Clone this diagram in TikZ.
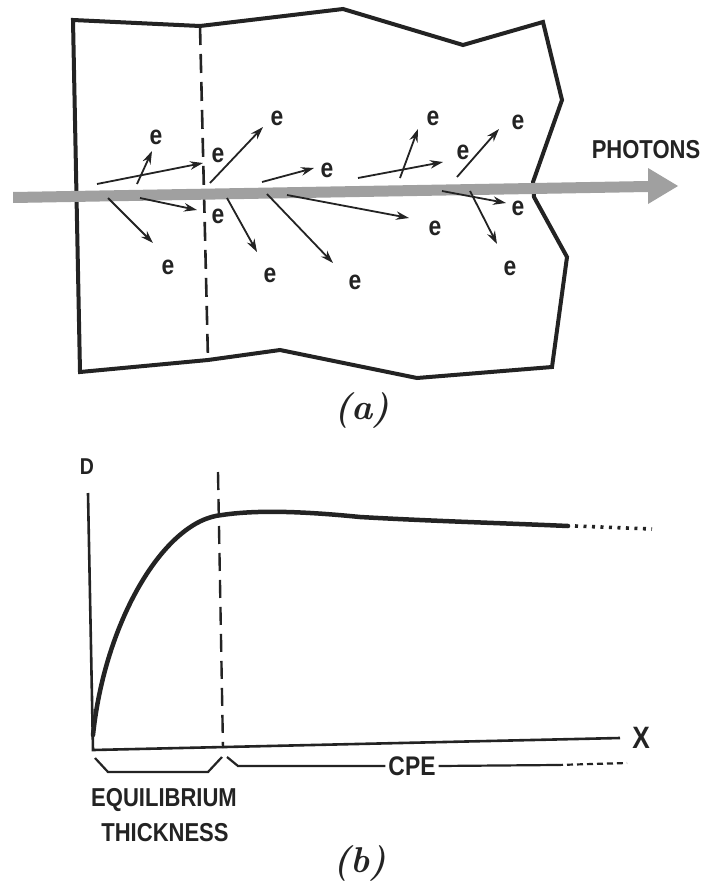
\documentclass[tikz,border=0pt]{standalone}
\usepackage{fontspec}
\newfontfamily\lbl{Liberation Sans}[FakeStretch=0.85]
\usetikzlibrary{arrows.meta}
\definecolor{ink}{RGB}{35,35,35}
\definecolor{beamgray}{RGB}{160,160,160}
\begin{document}
\begin{tikzpicture}[x=1bp,y=-1bp,
  outline/.style={draw=ink, line width=4bp, line join=miter},
  dashline/.style={draw=ink, line width=2.6bp, dash pattern=on 19bp off 9bp},
  earrow/.style={draw=ink, line width=1.8bp, -{Stealth[length=13bp,width=8.5bp]}},
  elabel/.style={font=\lbl\bfseries\fontsize{27}{27}\selectfont, text=ink, inner sep=0pt},
  biglabel/.style={font=\lbl\bfseries\fontsize{26}{26}\selectfont, text=ink, inner sep=0pt},
  caption/.style={font=\bfseries\itshape\fontsize{36}{36}\selectfont, text=ink, inner sep=0pt},
  axis/.style={draw=ink, line width=2.6bp},
  curve/.style={draw=ink, line width=4.5bp, line cap=round},
  bracket/.style={draw=ink, line width=2.2bp}]
\useasboundingbox (0,0) rectangle (702,884);
\fill[white] (0,0) rectangle (702,884);

% ---------- panel (a) ----------
\draw[outline] (73,20) -- (200,26) -- (343,9) -- (463,45) -- (543,22) -- (562,100)
  -- (533,182) -- (534,197) -- (567,257) -- (552,367) -- (417,378) -- (280,350)
  -- (208,360) -- (80,372) -- cycle;
\coordinate (dtop) at (200,26);
\coordinate (dbot) at (208,360);
\draw[dashline] (dtop) -- (dbot);

% photon beam
\fill[beamgray] (13,192) -- (648,181) -- (648,168) -- (678,186) -- (648,204)
  -- (648,192) -- (13,203) -- cycle;
\node[biglabel] (photons) at (646,150) {PHOTONS};

% electrons
\node[elabel] (e1) at (218,155) {e};
\node[elabel] (e2) at (156,137) {e};
\node[elabel] (e3) at (168,267) {e};
\node[elabel] (e4) at (218,216) {e};
\node[elabel] (e5) at (277,118) {e};
\node[elabel] (e6) at (270,275) {e};
\node[elabel] (e7) at (327,170) {e};
\node[elabel] (e8) at (355,282) {e};
\node[elabel] (e9) at (435,228) {e};
\node[elabel] (e10) at (463,152) {e};
\node[elabel] (e11) at (433,118) {e};
\node[elabel] (e12) at (518,122) {e};
\node[elabel] (e13) at (518,208) {e};
\node[elabel] (e14) at (510,268) {e};

\coordinate (s1) at (97,184);   \coordinate (t1) at (203,163);
\coordinate (s2) at (137,184);  \coordinate (t2) at (152,151);
\coordinate (s3) at (108,198);  \coordinate (t3) at (153,243);
\coordinate (s4) at (140,198);  \coordinate (t4) at (197,210);
\coordinate (s5) at (210,183);  \coordinate (t5) at (263,127);
\coordinate (s6) at (227,198);  \coordinate (t6) at (257,252);
\coordinate (s7) at (262,182);  \coordinate (t7) at (314,168);
\coordinate (s8) at (267,194);  \coordinate (t8) at (333,263);
\coordinate (s9) at (287,195);  \coordinate (t9) at (409,218);
\coordinate (s10) at (358,178); \coordinate (t10) at (443,162);
\coordinate (s11) at (400,178); \coordinate (t11) at (418,129);
\coordinate (s12) at (457,177); \coordinate (t12) at (499,129);
\coordinate (s13) at (442,191); \coordinate (t13) at (506,203);
\coordinate (s14) at (470,191); \coordinate (t14) at (497,244);
\foreach \i in {1,...,14} {\draw[earrow] (s\i) -- (t\i);}

\node[caption] (capa) at (362,411) {(a)};

% ---------- panel (b) ----------
\node[font=\lbl\bfseries\fontsize{23}{23}\selectfont, text=ink, inner sep=0pt] (D) at (87,467) {D};
\node[font=\lbl\bfseries\fontsize{31}{31}\selectfont, text=ink, inner sep=0pt] (X) at (641,738) {X};
\coordinate (ytop) at (88,493);
\coordinate (orig) at (93,750);
\coordinate (xend) at (620,738);
\draw[axis] (ytop) -- (orig) -- (xend);

\coordinate (vtop) at (218,472);
\coordinate (vbot) at (223,748);
\draw[draw=ink, line width=2.4bp, dash pattern=on 18bp off 9bp] (vtop) -- (vbot);

\coordinate (c0) at (93,735);
\coordinate (c1) at (222,515);
\coordinate (c2) at (360,517);
\coordinate (c3) at (568,526);
\draw[curve] (c0) .. controls (105,620) and (165,520) .. (c1)
  .. controls (255,510) and (300,511) .. (c2)
  .. controls (430,521) and (500,523) .. (c3);
\coordinate (dotA) at (575,526);
\coordinate (dotB) at (652,529);
\draw[draw=ink, line width=3.6bp, dash pattern=on 3bp off 5.5bp] (dotA) -- (dotB);

% brackets
\coordinate (lb1) at (95,758); \coordinate (lb2) at (108,772);
\coordinate (lb3) at (208,772); \coordinate (lb4) at (222,757);
\draw[bracket] (lb1) -- (lb2) -- (lb3) -- (lb4);
\node[biglabel, font=\lbl\bfseries\fontsize{27}{27}\selectfont, inner sep=3bp] (CPE) at (412,766) {CPE};
\coordinate (rb1) at (227,757); \coordinate (rb2) at (238,766);
\coordinate (rb3) at (557,765); \coordinate (rb4) at (627,763);
\draw[bracket] (rb1) -- (rb2) -- (CPE.west);
\draw[bracket] (CPE.east) -- (rb3);
\draw[bracket, dash pattern=on 6bp off 4bp] (rb3) -- (rb4);

\node[biglabel] (eq) at (164,800) {EQUILIBRIUM};
\node[biglabel] (th) at (165,833) {THICKNESS};

\node[caption] (capb) at (360,864) {(b)};
\end{tikzpicture}
\end{document}
